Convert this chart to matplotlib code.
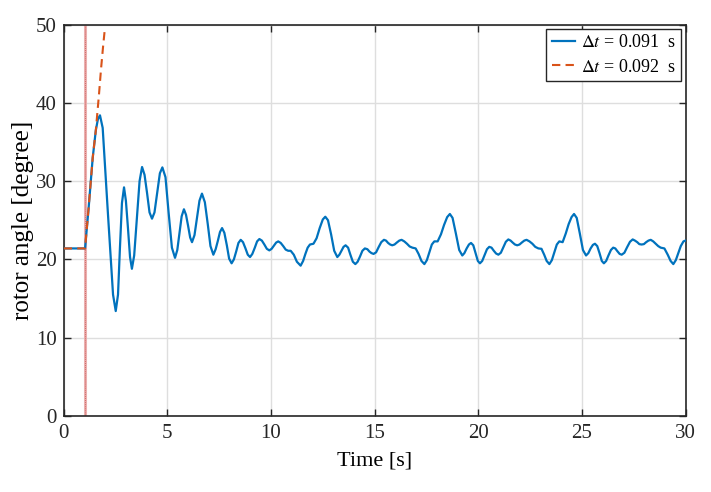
import matplotlib
matplotlib.use("Agg")
import matplotlib.pyplot as plt

plt.rcParams.update({
    "font.family": "serif",
    "font.serif": ["Liberation Serif", "DejaVu Serif"],
    "mathtext.fontset": "stix",
    "axes.edgecolor": "#262626",
    "axes.linewidth": 1.2,
    "xtick.direction": "in",
    "ytick.direction": "in",
    "xtick.top": True,
    "ytick.right": True,
    "xtick.color": "#262626",
    "ytick.color": "#262626",
})

MATLAB_BLUE = "#0072BD"
MATLAB_ORANGE = "#D95319"

fault_time = 1.03

# rotor angle, dt = 0.091 s (stable case)
t_091 = [
    0.0, 1.03, 1.2, 1.4, 1.55, 1.65, 1.75,
    1.88, 2.13, 2.38, 2.51,
    2.62, 2.71, 2.81, 2.91,
    3.0, 3.10, 3.2, 3.29,
    3.4, 3.53, 3.66, 3.78,
    3.9, 4.02, 4.14, 4.26,
    4.38, 4.51, 4.64, 4.76,
    4.91, 5.06, 5.22, 5.37,
    5.48, 5.58, 5.69, 5.80,
    5.9, 6.0, 6.1, 6.19,
    6.31, 6.43, 6.55, 6.67,
    6.81, 6.95, 7.08, 7.22,
    7.33, 7.43, 7.54, 7.64,
    7.75, 7.87, 7.98, 8.10,
    8.21, 8.32, 8.43, 8.54,
    8.65, 8.77, 8.88, 8.99,
    9.1, 9.22, 9.33, 9.44,
    9.56, 9.68, 9.80, 9.92,
    10.03, 10.14, 10.25, 10.35,
    10.47, 10.59, 10.71, 10.83, 10.95,
    11.1, 11.25, 11.43,
    11.55, 11.66, 11.77, 11.88, 12.05,
    12.2, 12.35, 12.5, 12.62,
    12.75, 12.9, 13.05, 13.2,
    13.3, 13.4, 13.5, 13.60,
    13.72, 13.83, 13.95, 14.07,
    14.18, 14.3, 14.41, 14.53,
    14.65, 14.75, 14.85, 14.95,
    15.07, 15.2, 15.32, 15.45,
    15.55, 15.65, 15.75, 15.85,
    15.96, 16.07, 16.19, 16.30,
    16.43, 16.56, 16.69, 16.82, 16.98,
    17.12, 17.26, 17.40,
    17.52, 17.64, 17.76, 17.88, 18.04,
    18.2, 18.35, 18.5, 18.63,
    18.76, 18.92, 19.08, 19.23,
    19.33, 19.44, 19.55, 19.65,
    19.76, 19.87, 19.98, 20.08,
    20.19, 20.3, 20.42, 20.53,
    20.64, 20.75, 20.86, 20.97,
    21.09, 21.21, 21.33, 21.45,
    21.56, 21.66, 21.77, 21.88,
    21.99, 22.1, 22.22, 22.33,
    22.47, 22.61, 22.75, 22.9, 23.05,
    23.18, 23.3, 23.43,
    23.55, 23.67, 23.79, 23.91, 24.07,
    24.22, 24.36, 24.5, 24.62,
    24.75, 24.9, 25.05, 25.20,
    25.31, 25.42, 25.53, 25.63,
    25.74, 25.85, 25.96, 26.06,
    26.17, 26.28, 26.4, 26.51,
    26.61, 26.71, 26.82, 26.92,
    27.05, 27.18, 27.32, 27.45,
    27.56, 27.67, 27.77, 27.88,
    27.99, 28.1, 28.21, 28.32,
    28.44, 28.56, 28.68, 28.8, 28.98,
    29.14, 29.28, 29.41,
    29.53, 29.65, 29.77, 29.9, 30.0,
]
angle_091 = [
    21.4, 21.4, 26.5, 33.0, 36.5, 37.9, 38.4,
    36.8, 26.0, 15.5, 13.4,
    15.5, 21.3, 27.2, 29.2,
    27.5, 24.0, 20.3, 18.8,
    20.5, 25.3, 30.0, 31.8,
    30.8, 28.5, 26.0, 25.2,
    26.0, 28.5, 31.0, 31.75,
    30.5, 26.0, 21.5, 20.2,
    21.2, 23.3, 25.5, 26.4,
    25.7, 24.3, 22.8, 22.2,
    23.1, 25.3, 27.5, 28.4,
    27.3, 24.5, 21.7, 20.6,
    21.3, 22.3, 23.5, 24.0,
    23.4, 21.8, 20.1, 19.5,
    20.0, 21.0, 22.1, 22.5,
    22.2, 21.4, 20.6, 20.3,
    20.7, 21.5, 22.3, 22.6,
    22.4, 21.9, 21.35, 21.15,
    21.35, 21.75, 22.15, 22.3,
    22.1, 21.7, 21.25, 21.1, 21.1,
    20.6, 19.7, 19.2,
    19.8, 20.7, 21.5, 21.9, 22.0,
    22.7, 24.0, 25.1, 25.45,
    25.0, 23.2, 21.1, 20.3,
    20.6, 21.1, 21.6, 21.8,
    21.5, 20.6, 19.7, 19.4,
    19.7, 20.4, 21.1, 21.4,
    21.3, 21.0, 20.8, 20.7,
    20.9, 21.6, 22.2, 22.5,
    22.4, 22.1, 21.9, 21.8,
    21.9, 22.15, 22.4, 22.5,
    22.3, 22.0, 21.65, 21.5, 21.4,
    20.7, 19.8, 19.4,
    19.9, 20.9, 21.9, 22.3, 22.3,
    23.2, 24.4, 25.4, 25.8,
    25.3, 23.3, 21.2, 20.5,
    20.8, 21.4, 21.9, 22.1,
    21.8, 20.8, 19.8, 19.5,
    19.8, 20.5, 21.3, 21.6,
    21.5, 21.1, 20.75, 20.6,
    20.85, 21.55, 22.25, 22.55,
    22.4, 22.15, 21.9, 21.8,
    21.9, 22.15, 22.4, 22.5,
    22.3, 22.0, 21.6, 21.4, 21.35,
    20.6, 19.8, 19.4,
    19.9, 20.9, 21.9, 22.3, 22.2,
    23.3, 24.5, 25.4, 25.8,
    25.3, 23.3, 21.2, 20.5,
    20.8, 21.4, 21.85, 22.0,
    21.7, 20.8, 19.8, 19.5,
    19.8, 20.5, 21.2, 21.5,
    21.4, 21.05, 20.7, 20.6,
    20.85, 21.55, 22.25, 22.55,
    22.4, 22.2, 21.95, 21.9,
    21.95, 22.2, 22.4, 22.5,
    22.3, 22.0, 21.7, 21.5, 21.4,
    20.6, 19.8, 19.4,
    19.9, 20.8, 21.7, 22.3, 22.4,
]

# rotor angle, dt = 0.092 s (loses synchronism)
t_092 = [0.0, 1.03, 1.2, 1.4, 1.55, 1.6, 1.7, 1.8, 1.9, 1.99]
angle_092 = [21.4, 21.4, 26.5, 33.0, 36.5, 38.0, 41.0, 44.3, 47.2, 49.6]

x_ticks = [0, 5, 10, 15, 20, 25, 30]
y_ticks = [0, 10, 20, 30, 40, 50]

fig = plt.figure(figsize=(7.11, 4.92), dpi=100)
ax = fig.add_axes([0.0896, 0.1545, 0.8746, 0.7957])

ax.axvline(fault_time, color="#EBB0B0", lw=2.2, zorder=2)
ax.axvline(fault_time, color="#D06A66", lw=0.7, ls=(0, (1, 1)), zorder=2)

ax.plot(t_091, angle_091, color=MATLAB_BLUE, lw=1.6, label=r"$\Delta t$ = 0.091  s", zorder=3)
ax.plot(t_092, angle_092, color=MATLAB_ORANGE, lw=1.5, ls=(0, (4, 2.5)),
        label=r"$\Delta t$ = 0.092  s", zorder=4)

ax.set_xlim(0, 30)
ax.set_ylim(0, 50)
ax.set_xticks(x_ticks)
ax.set_yticks(y_ticks)
ax.tick_params(labelsize=15, length=5, width=1, pad=6)
ax.tick_params(axis="y", pad=5)
ax.grid(True, color="#DEDEDE", lw=1)
ax.set_axisbelow(True)

ax.set_xlabel("Time [s]", fontsize=16, labelpad=6)
ax.set_ylabel("rotor angle [degree]", fontsize=18, labelpad=1.5)

leg = ax.legend(loc="upper right", fontsize=13, frameon=True, fancybox=False,
                edgecolor="#262626", framealpha=1, handlelength=1.3,
                handletextpad=0.3, borderpad=0.3, labelspacing=0.4,
                borderaxespad=0.25)
leg.get_frame().set_linewidth(1.0)

fig.savefig("out.png", dpi=100)
